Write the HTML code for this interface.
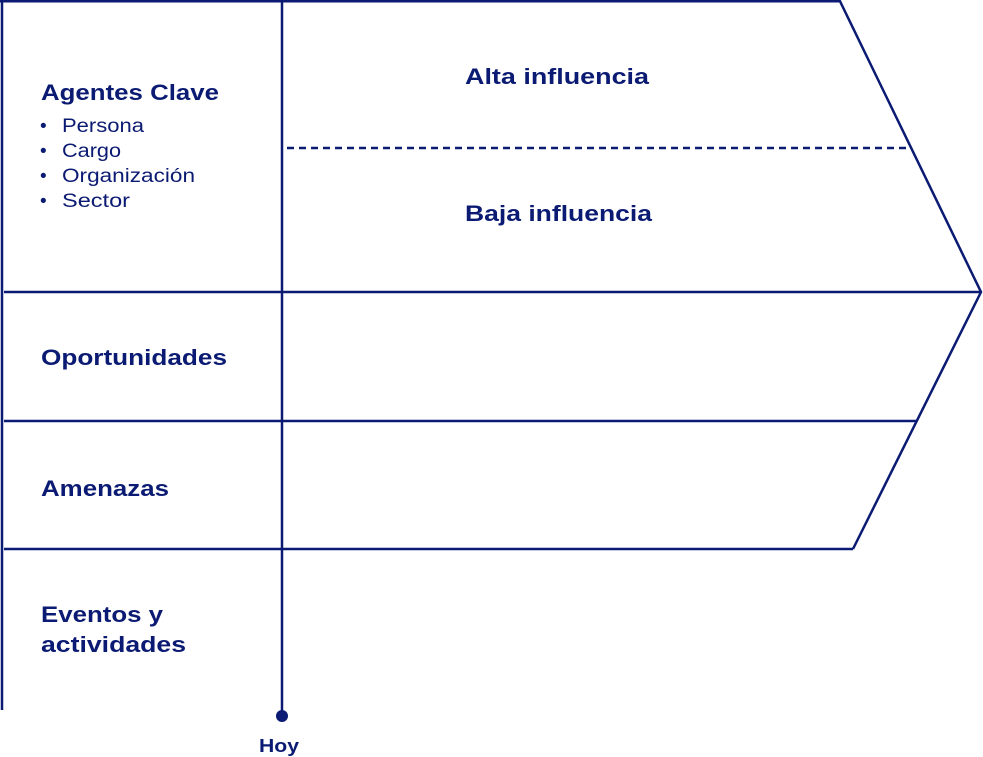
<!DOCTYPE html>
<html><head><meta charset="utf-8"><style>
html,body{margin:0;padding:0;background:#fff;}
svg{display:block;}
text{font-family:"Liberation Sans",sans-serif;fill:#0b1a72;}
.b{font-weight:bold;font-size:22px;}
.n{font-size:19px;}
</style></head><body>
<svg width="983" height="757" viewBox="0 0 983 757" xmlns="http://www.w3.org/2000/svg">
<g stroke="#0b1a72" stroke-width="2.5" fill="none">
<line x1="2" y1="0" x2="2" y2="710"/>
<line x1="282" y1="0" x2="282" y2="716"/>
<polyline points="0,1.2 840,1.2 981,292 853,549"/>
<line x1="4" y1="292" x2="981" y2="292"/>
<line x1="4" y1="421" x2="917" y2="421"/>
<line x1="4" y1="549" x2="853" y2="549"/>
<line x1="287" y1="148" x2="912" y2="148" stroke-dasharray="7,5"/>
</g>
<circle cx="282" cy="716" r="6" fill="#0b1a72"/>
<text class="b" x="41" y="100" textLength="178" lengthAdjust="spacingAndGlyphs">Agentes Clave</text>
<text class="n" x="40" y="132">•</text><text class="n" x="62" y="132" textLength="82" lengthAdjust="spacingAndGlyphs">Persona</text>
<text class="n" x="40" y="157">•</text><text class="n" x="62" y="157" textLength="59" lengthAdjust="spacingAndGlyphs">Cargo</text>
<text class="n" x="40" y="182">•</text><text class="n" x="62" y="182" textLength="133" lengthAdjust="spacingAndGlyphs">Organización</text>
<text class="n" x="40" y="207">•</text><text class="n" x="62" y="207" textLength="68" lengthAdjust="spacingAndGlyphs">Sector</text>
<text class="b" x="465" y="84" textLength="184" lengthAdjust="spacingAndGlyphs">Alta influencia</text>
<text class="b" x="465" y="221" textLength="187" lengthAdjust="spacingAndGlyphs">Baja influencia</text>
<text class="b" x="41" y="365" textLength="186" lengthAdjust="spacingAndGlyphs">Oportunidades</text>
<text class="b" x="41" y="496" textLength="128" lengthAdjust="spacingAndGlyphs">Amenazas</text>
<text class="b" x="41" y="622" textLength="122" lengthAdjust="spacingAndGlyphs">Eventos y</text>
<text class="b" x="41" y="652" textLength="145" lengthAdjust="spacingAndGlyphs">actividades</text>
<text x="259" y="752" style="font-weight:bold;font-size:18px" textLength="40" lengthAdjust="spacingAndGlyphs">Hoy</text>
</svg>
</body></html>
